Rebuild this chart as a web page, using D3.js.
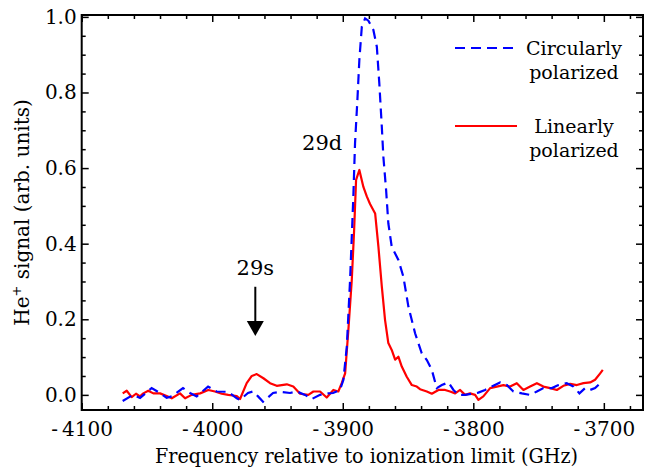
<!DOCTYPE html>
<html>
<head>
<meta charset="utf-8">
<script src="https://cdn.jsdelivr.net/npm/d3@7"></script>
<style>
  body { margin: 0; background: #fff; }
  svg { display: block; }
</style>
</head>
<body>
<div id="chart"></div>
<script>
// [frequency (GHz), He+ signal]
const circular = [
  [-4068.6, -0.016], [-4060.7, 0.0], [-4055.3, -0.008], [-4046.4, 0.018], [-4040, 0.005],
  [-4034.9, -0.008], [-4031, -0.004], [-4022.4, 0.018], [-4017, 0.005], [-4011.9, -0.004],
  [-4003.2, 0.022], [-3996.6, 0.009], [-3987.9, 0.008], [-3981.2, -0.009], [-3978.7, -0.013],
  [-3972.6, 0.005], [-3968.7, 0.009], [-3964.9, -0.004], [-3961.1, -0.018], [-3953.4, 0.005],
  [-3948, 0.008], [-3940.4, 0.005], [-3935.2, 0.009], [-3928.9, 0.0], [-3923.8, -0.011],
  [-3917.4, 0.0], [-3912.3, 0.004], [-3907.4, 0.005], [-3902.1, 0.013], [-3899.5, 0.04],
  [-3896.9, 0.128], [-3894.4, 0.304], [-3891.9, 0.525], [-3890.6, 0.666], [-3888.8, 0.78],
  [-3887.3, 0.886], [-3885.4, 0.974], [-3882.9, 0.996], [-3880.4, 0.99], [-3876.6, 0.966],
  [-3873.9, 0.921], [-3872, 0.824], [-3870.1, 0.71], [-3868.9, 0.63], [-3866.8, 0.542],
  [-3865.1, 0.454], [-3862.5, 0.392], [-3857.4, 0.357], [-3853.6, 0.313], [-3849.7, 0.233],
  [-3844.6, 0.163], [-3839.5, 0.11], [-3835.6, 0.092], [-3831.8, 0.066], [-3828, 0.018],
  [-3824.1, 0.026], [-3819.1, 0.033], [-3815.2, 0.013], [-3811.4, 0.0], [-3806.3, 0.0],
  [-3801.1, 0.003], [-3796.1, 0.006], [-3791, 0.013], [-3785.8, 0.022], [-3779.5, 0.033],
  [-3774.3, 0.026], [-3769.3, 0.009], [-3762.8, 0.004], [-3756.5, 0.0], [-3751.3, 0.009],
  [-3746.3, 0.018], [-3739.8, 0.018], [-3734.8, 0.026], [-3728.4, 0.031], [-3723.3, 0.022],
  [-3718.7, 0.004], [-3714.3, 0.018], [-3710.5, 0.013], [-3706.7, 0.018], [-3702.8, 0.031],
  [-3701.5, 0.035]
];

const linear = [
  [-4068.6, 0.004], [-4065.5, 0.011], [-4061.7, -0.006], [-4058.4, 0.003], [-4055.3, -0.004],
  [-4052.8, 0.004], [-4049, 0.011], [-4045.1, 0.004], [-4040, 0.004], [-4034.9, -0.003],
  [-4031, -0.009], [-4024.7, 0.004], [-4020.8, -0.009], [-4015.7, 0.0], [-4009.3, 0.004],
  [-4003, 0.013], [-3997.9, 0.009], [-3992.7, 0.003], [-3987.7, 0.0], [-3981.2, -0.003],
  [-3978.7, -0.011], [-3973.6, 0.031], [-3969.7, 0.05], [-3965.9, 0.055], [-3960.8, 0.044],
  [-3955.7, 0.031], [-3950.6, 0.024], [-3942.9, 0.028], [-3937.9, 0.022], [-3932.7, 0.003],
  [-3926.4, 0.0], [-3922.5, 0.009], [-3917.4, 0.009], [-3912.3, -0.007], [-3907.2, 0.013],
  [-3903.4, 0.009], [-3900.8, 0.031], [-3898.2, 0.057], [-3895.7, 0.172], [-3893.1, 0.304],
  [-3891.3, 0.436], [-3889.8, 0.569], [-3887.3, 0.595], [-3884.2, 0.55], [-3881.6, 0.525],
  [-3879.1, 0.505], [-3875.2, 0.48], [-3872.7, 0.392], [-3870.1, 0.287], [-3867.6, 0.198],
  [-3865.1, 0.137], [-3862.5, 0.119], [-3859.9, 0.093], [-3857.4, 0.101], [-3854.8, 0.075],
  [-3851, 0.048], [-3847.1, 0.026], [-3843.3, 0.022], [-3840.8, 0.015], [-3835.6, 0.009],
  [-3831.8, 0.003], [-3826.7, 0.013], [-3821.6, 0.013], [-3817.8, 0.009], [-3813.9, 0.004],
  [-3810.1, 0.013], [-3806.3, 0.0], [-3802.5, 0.004], [-3798.6, 0.0], [-3796.1, -0.013],
  [-3792.3, -0.004], [-3787.1, 0.018], [-3782, 0.022], [-3776.9, 0.026], [-3771.8, 0.022],
  [-3766.7, 0.031], [-3761.6, 0.013], [-3756.5, 0.022], [-3751.3, 0.031], [-3746.3, 0.022],
  [-3741.1, 0.018], [-3736, 0.013], [-3731, 0.024], [-3725.8, 0.029], [-3720.7, 0.026],
  [-3715.6, 0.031], [-3710.5, 0.033], [-3706.7, 0.04], [-3702.8, 0.057], [-3700.8, 0.066]
];

const xMajorTicks = [-4100, -4000, -3900, -3800, -3700];
const yMajorTicks = [0.0, 0.2, 0.4, 0.6, 0.8, 1.0];
const xDomain = [-4100, -3670];
const yDomain = [-0.04, 1.005];

const legendItems = [
  { lines: ["Circularly", "polarized"], color: "#0000ff", dash: "10,6" },
  { lines: ["Linearly", "polarized"], color: "#ff0000", dash: null }
];

const peakLabel = { text: "29d", freq: -3892, value: 0.66 };
const arrow29s = { text: "29s", freq: -3967, from: 0.286, to: 0.156 };

const W = 647, H = 468;
const margin = { top: 15, right: 4, bottom: 58, left: 81.7 };
const width = W - margin.left - margin.right;
const height = H - margin.top - margin.bottom;
const font = "DejaVu Serif, serif";

const svg = d3.select("#chart").append("svg")
  .attr("width", W)
  .attr("height", H)
  .append("g")
  .attr("transform", `translate(${margin.left},${margin.top})`);

const x = d3.scaleLinear().domain(xDomain).range([0, width]);
const y = d3.scaleLinear().domain(yDomain).range([height, 0]);

const xMinor = d3.range(-4100, -3670, 20).filter(v => !xMajorTicks.includes(v));
const yMinor = d3.range(0, 1.001, 0.05).map(v => +v.toFixed(2)).filter(v => !yMajorTicks.includes(v));

function styleAxis(g, size) {
  g.select(".domain").remove();
  g.selectAll("line").attr("stroke", "#000").attr("stroke-width", 1.5);
  g.attr("font-family", font).attr("font-size", size);
  g.selectAll("text").attr("fill", "#000");
}

// bottom
svg.append("g")
  .attr("transform", `translate(0,${height})`)
  .call(d3.axisBottom(x).tickValues(xMajorTicks).tickSize(-7).tickPadding(12)
    .tickFormat(d => "-\u2009" + Math.abs(d)))
  .call(g => styleAxis(g, 20));
svg.append("g")
  .attr("transform", `translate(0,${height})`)
  .call(d3.axisBottom(x).tickValues(xMinor).tickSize(-4).tickFormat(""))
  .call(g => styleAxis(g, 20));

// top
svg.append("g")
  .call(d3.axisTop(x).tickValues(xMajorTicks).tickSize(-7).tickFormat(""))
  .call(g => styleAxis(g, 20));
svg.append("g")
  .call(d3.axisTop(x).tickValues(xMinor).tickSize(-4).tickFormat(""))
  .call(g => styleAxis(g, 20));

// left
svg.append("g")
  .call(d3.axisLeft(y).tickValues(yMajorTicks).tickSize(-7).tickPadding(5)
    .tickFormat(d3.format(".1f")))
  .call(g => styleAxis(g, 20));
svg.append("g")
  .call(d3.axisLeft(y).tickValues(yMinor).tickSize(-4).tickFormat(""))
  .call(g => styleAxis(g, 20));

// right
svg.append("g")
  .attr("transform", `translate(${width},0)`)
  .call(d3.axisRight(y).tickValues(yMajorTicks).tickSize(-7).tickFormat(""))
  .call(g => styleAxis(g, 20));
svg.append("g")
  .attr("transform", `translate(${width},0)`)
  .call(d3.axisRight(y).tickValues(yMinor).tickSize(-4).tickFormat(""))
  .call(g => styleAxis(g, 20));

// frame
svg.append("rect")
  .attr("width", width)
  .attr("height", height)
  .attr("fill", "none")
  .attr("stroke", "#000")
  .attr("stroke-width", 2);

const line = d3.line()
  .x(d => x(d[0]))
  .y(d => y(d[1]));

svg.append("path")
  .datum(linear)
  .attr("fill", "none")
  .attr("stroke", "#ff0000")
  .attr("stroke-width", 2.2)
  .attr("stroke-linejoin", "round")
  .attr("d", line);

svg.append("path")
  .datum(circular)
  .attr("fill", "none")
  .attr("stroke", "#0000ff")
  .attr("stroke-width", 2.2)
  .attr("stroke-dasharray", "10,6")
  .attr("d", line);

// Axis titles
svg.append("text")
  .attr("text-anchor", "middle")
  .attr("x", (155 + 578) / 2 - margin.left)
  .attr("y", 463 - margin.top)
  .attr("font-family", font)
  .attr("font-size", 20)
  .attr("textLength", 423)
  .attr("lengthAdjust", "spacingAndGlyphs")
  .text("Frequency relative to ionization limit (GHz)");

const yTitle = svg.append("text")
  .attr("text-anchor", "middle")
  .attr("transform", "rotate(-90)")
  .attr("x", -height / 2)
  .attr("y", 29 - margin.left)
  .attr("font-family", font)
  .attr("font-size", 20);
yTitle.append("tspan").text("He");
yTitle.append("tspan").attr("font-size", 13).attr("dy", -8).text("+");
yTitle.append("tspan").attr("dy", 8).text(" signal (arb. units)");

// Legend
const legend = svg.append("g")
  .attr("transform", `translate(${455 - margin.left},${48 - margin.top})`);

legendItems.forEach((item, i) => {
  const g = legend.append("g").attr("transform", `translate(0,${i * 78})`);
  g.append("line")
    .attr("x1", 0).attr("x2", 62)
    .attr("stroke", item.color)
    .attr("stroke-width", 2.2)
    .attr("stroke-dasharray", item.dash);
  item.lines.forEach((t, j) => {
    g.append("text")
      .attr("x", 119)
      .attr("y", 7 + j * 23.5)
      .attr("text-anchor", "middle")
      .attr("font-family", font)
      .attr("font-size", 19)
      .text(t);
  });
});

// 29d label
svg.append("text")
  .attr("x", x(peakLabel.freq) - 11)
  .attr("y", y(peakLabel.value) + 5)
  .attr("text-anchor", "end")
  .attr("font-family", font)
  .attr("font-size", 21)
  .text(peakLabel.text);

// 29s arrow
const ax = x(arrow29s.freq);
svg.append("text")
  .attr("x", ax)
  .attr("y", y(arrow29s.from) - 12)
  .attr("text-anchor", "middle")
  .attr("font-family", font)
  .attr("font-size", 21)
  .text(arrow29s.text);

svg.append("line")
  .attr("x1", ax).attr("x2", ax)
  .attr("y1", y(arrow29s.from))
  .attr("y2", y(arrow29s.to) - 12)
  .attr("stroke", "#000")
  .attr("stroke-width", 2);

const tipY = y(arrow29s.to);
svg.append("path")
  .attr("d", `M${ax - 8.5},${tipY - 15} L${ax + 8.5},${tipY - 15} L${ax},${tipY} Z`)
  .attr("fill", "#000");
</script>
</body>
</html>
